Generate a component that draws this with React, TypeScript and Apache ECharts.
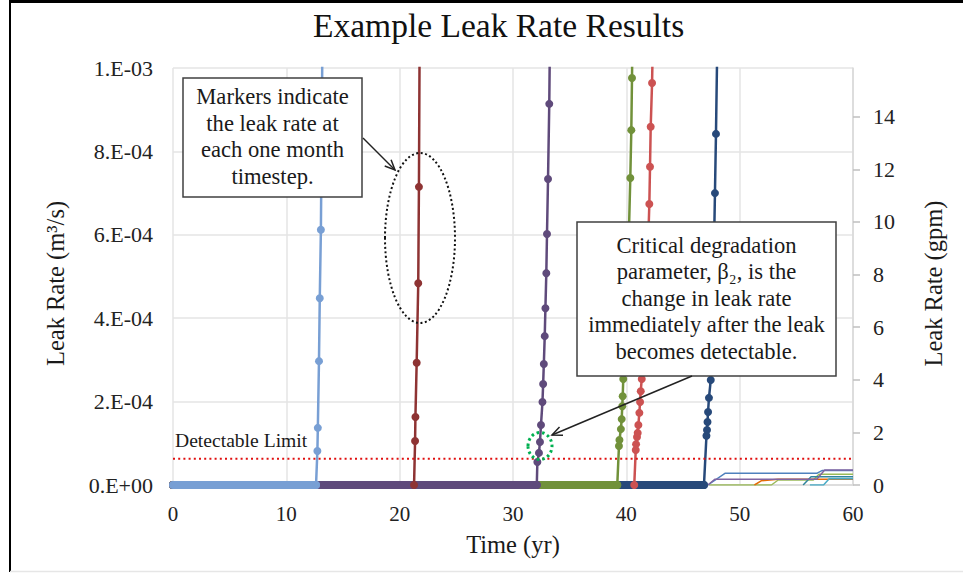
import React, { useEffect, useRef } from "react";
import * as echarts from "echarts";

const FONT = "'Liberation Serif', 'Times New Roman', serif";

// ---- axes ----
const xTicks = [0, 10, 20, 30, 40, 50, 60];
const leftTickLabels = ["0.E+00", "2.E-04", "4.E-04", "6.E-04", "8.E-04", "1.E-03"];
const rightTickValues = [0, 2, 4, 6, 8, 10, 12, 14];
const GPM_PER_M3S = 15850.3;
const detectableLimit = 6.31e-5; // m3/s (1 gpm)

// ---- realizations that become detectable (time in yr, leak rate in m3/s) ----
const lightBlueTime = [12.62, 12.74, 12.78, 12.88, 12.95, 13.05, 13.1, 13.15, 13.2];
const lightBlueRate = [0, 8.15e-5, 1.37e-4, 2.97e-4, 4.48e-4, 6.12e-4, 7.8e-4, 9.5e-4, 1.12e-3];

const darkRedTime = [21.27, 21.36, 21.39, 21.5, 21.64, 21.7, 21.76];
const darkRedRate = [0, 1.055e-4, 1.63e-4, 2.93e-4, 4.84e-4, 7.15e-4, 1.06e-3];

const purpleTime = [32.1, 32.15, 32.29, 32.38, 32.47, 32.6, 32.66, 32.72, 32.8, 32.86, 32.94, 33.0, 33.09, 33.2, 33.27];
const purpleRate = [0, 5.5e-5, 7.7e-5, 1.03e-4, 1.44e-4, 1.99e-4, 2.42e-4, 2.9e-4, 3.57e-4, 4.24e-4, 5.08e-4, 6.02e-4, 7.34e-4, 9.14e-4, 1.1e-3];

const greenTime = [39.2, 39.35, 39.39, 39.52, 39.59, 39.64, 39.68, 39.73, 39.83, 39.93, 40.03, 40.13, 40.24, 40.35, 40.44, 40.5, 40.55];
const greenRate = [0, 9.35e-5, 1.08e-4, 1.34e-4, 1.58e-4, 1.89e-4, 2.13e-4, 2.54e-4, 3.05e-4, 3.7e-4, 4.45e-4, 5.3e-4, 6.2e-4, 7.36e-4, 8.51e-4, 9.76e-4, 1.1e-3];

const redTime = [40.7, 40.83, 40.86, 40.94, 41.0, 41.06, 41.15, 41.21, 41.27, 41.36, 41.46, 41.55, 41.65, 41.75, 41.84, 41.94, 42.03, 42.09, 42.15, 42.27, 42.35];
const redRate = [0, 8.4e-5, 9.8e-5, 1.15e-4, 1.25e-4, 1.44e-4, 1.73e-4, 1.99e-4, 2.25e-4, 2.54e-4, 2.95e-4, 3.42e-4, 3.95e-4, 4.55e-4, 5.2e-4, 5.93e-4, 6.74e-4, 7.63e-4, 8.59e-4, 9.64e-4, 1.08e-3];

const darkBlueTime = [46.85, 47.07, 47.12, 47.16, 47.21, 47.29, 47.45, 47.53, 47.6, 47.67, 47.74, 47.82, 47.91, 48.0];
const darkBlueRate = [0, 1.18e-4, 1.32e-4, 1.51e-4, 1.75e-4, 2.09e-4, 2.52e-4, 3.07e-4, 3.77e-4, 4.66e-4, 5.79e-4, 7.0e-4, 8.42e-4, 1.01e-3];

// ---- small, sub-threshold realizations ----
const lowBlueTime = [47.2, 48.7, 56.8, 57.3, 60];
const lowBlueRate = [0, 2.8e-5, 2.8e-5, 3.5e-5, 3.5e-5];
const lowPurpleTime = [47.2, 47.8, 56.8, 57.5, 60];
const lowPurpleRate = [0, 1.37e-5, 1.37e-5, 3.6e-5, 3.6e-5];
const lowGreenTime = [47.3, 52.8, 53.4, 56.5, 57.0, 60];
const lowGreenRate = [0, 0, 1.2e-5, 1.2e-5, 2.6e-5, 2.6e-5];
const lowOrangeTime = [51.3, 51.9, 53.4, 60];
const lowOrangeRate = [0, 1.0e-5, 1.4e-5, 1.4e-5];
const lowAquaTime = [56.2, 57.4, 57.9, 60];
const lowAquaRate = [0, 0, 1.5e-5, 1.5e-5];
const lowTealTime = [55.6, 56.3, 60];
const lowTealRate = [0, 2.0e-5, 2.0e-5];

const pairs = (t: number[], q: number[]) => t.map((v, i) => [v, q[i]]);

type Real = { name: string; color: string; t: number[]; q: number[] };
// drawing order of the zero band (last on top)
const realizations: Real[] = [
  { name: "R6", color: "#8e3333", t: darkRedTime, q: darkRedRate },
  { name: "R4", color: "#cc5252", t: redTime, q: redRate },
  { name: "R5", color: "#27497a", t: darkBlueTime, q: darkBlueRate },
  { name: "R3", color: "#71913a", t: greenTime, q: greenRate },
  { name: "R2", color: "#5f4a7b", t: purpleTime, q: purpleRate },
  { name: "R1", color: "#789fd4", t: lightBlueTime, q: lightBlueRate },
];

const lowReals: Real[] = [
  { name: "L1", color: "#9bbb59", t: lowGreenTime, q: lowGreenRate },
  { name: "L2", color: "#e36c09", t: lowOrangeTime, q: lowOrangeRate },
  { name: "L3", color: "#31859c", t: lowTealTime, q: lowTealRate },
  { name: "L4", color: "#4bacc6", t: lowAquaTime, q: lowAquaRate },
  { name: "L5", color: "#4f81bd", t: lowBlueTime, q: lowBlueRate },
  { name: "L6", color: "#8064a2", t: lowPurpleTime, q: lowPurpleRate },
];

function arrowHead(x1: number, y1: number, x2: number, y2: number, len = 11, ang = 0.42) {
  const a = Math.atan2(y2 - y1, x2 - x1);
  return [
    [x2 - len * Math.cos(a - ang), y2 - len * Math.sin(a - ang)],
    [x2, y2],
    [x2 - len * Math.cos(a + ang), y2 - len * Math.sin(a + ang)],
  ];
}

export default function App() {
  const ref = useRef<HTMLDivElement>(null);
  useEffect(() => {
    if (!ref.current) return;
    const chart = echarts.init(ref.current, undefined, { renderer: "svg" });

    const series: any[] = [];
    // thick zero bands (monthly markers at zero)
    realizations.forEach((r) => {
      series.push({
        name: r.name + " band",
        type: "line",
        data: [[0, 0], [r.t[0], 0]],
        showSymbol: false,
        lineStyle: { color: r.color, width: 8, cap: "round" },
        z: 2,
        silent: true,
      });
    });
    lowReals.forEach((r) => {
      series.push({
        name: r.name,
        type: "line",
        data: pairs(r.t, r.q),
        showSymbol: false,
        lineStyle: { color: r.color, width: 1.5 },
        z: 3,
      });
    });
    realizations.forEach((r) => {
      series.push({
        name: r.name,
        type: "line",
        data: pairs(r.t, r.q),
        symbol: "circle",
        symbolSize: 8,
        showSymbol: true,
        clip: true,
        itemStyle: { color: r.color },
        lineStyle: { color: r.color, width: 2.5 },
        z: 4,
      });
    });
    series.push({
      name: "Detectable Limit",
      type: "line",
      data: [[0, detectableLimit], [60, detectableLimit]],
      showSymbol: false,
      lineStyle: { color: "#e01010", width: 2, type: [2, 3.2] },
      z: 5,
    });

    const textStyleBase = { fontFamily: FONT, fill: "#1a1a1a" };
    const a1 = [363, 138, 395, 170];
    const a2 = [692, 376, 552, 435];

    chart.setOption({
      animation: false,
      backgroundColor: "#ffffff",
      title: {
        text: "Example Leak Rate Results",
        left: 313,
        top: 8,
        padding: 0,
        textStyle: { fontFamily: FONT, fontSize: 33.5, fontWeight: "normal", color: "#111" },
      },
      grid: { left: 173, right: 110, top: 68, bottom: 90, containLabel: false },
      xAxis: {
        type: "value",
        min: 0,
        max: 60,
        interval: 10,
        name: "Time (yr)",
        nameLocation: "middle",
        nameGap: 47,
        nameTextStyle: { fontFamily: FONT, fontSize: 24.5, color: "#1a1a1a" },
        axisLine: { show: true, lineStyle: { color: "#d9d9d9", width: 1.5 } },
        axisTick: { show: false },
        axisLabel: {
          fontFamily: FONT,
          fontSize: 21,
          color: "#222",
          margin: 18,
          formatter: (v: number) => (xTicks.includes(v) ? String(v) : ""),
        },
        splitLine: { show: true, lineStyle: { color: "#e4e4e4", width: 1.5 } },
      },
      yAxis: [
        {
          type: "value",
          min: 0,
          max: 1e-3,
          interval: 2e-4,
          position: "left",
          name: "Leak Rate (m³/s)",
          nameLocation: "middle",
          nameRotate: 90,
          nameGap: 105,
          nameTextStyle: { fontFamily: FONT, fontSize: 24.5, color: "#1a1a1a", padding: [0, 14, 0, 0] },
          axisLine: { show: false },
          axisTick: { show: false },
          axisLabel: {
            fontFamily: FONT,
            fontSize: 22,
            color: "#222",
            margin: 20,
            formatter: (v: number) => leftTickLabels[Math.round(v / 2e-4)] ?? "",
          },
          splitLine: { show: true, lineStyle: { color: "#e4e4e4", width: 1.5 } },
        },
        {
          type: "value",
          min: 0,
          max: 1e-3 * GPM_PER_M3S,
          position: "right",
          name: "Leak Rate (gpm)",
          nameLocation: "middle",
          nameRotate: 90,
          nameGap: 68,
          nameTextStyle: { fontFamily: FONT, fontSize: 24.5, color: "#1a1a1a", padding: [0, 14, 0, 0] },
          axisLine: { show: true, lineStyle: { color: "#d9d9d9", width: 1.5 } },
          axisTick: {
            show: true,
            length: 7,
            customValues: rightTickValues,
            lineStyle: { color: "#bfbfbf", width: 1.5 },
          },
          axisLabel: {
            fontFamily: FONT,
            fontSize: 22,
            color: "#222",
            margin: 20,
            customValues: rightTickValues,
            formatter: (v: number) => String(v),
          },
          splitLine: { show: false },
        },
      ],
      series,
      graphic: [
        // outer frame
        { type: "line", z: 200, shape: { x1: 9, y1: 1.5, x2: 963, y2: 1.5 }, style: { stroke: "#000", lineWidth: 3 } },
        { type: "line", z: 200, shape: { x1: 10, y1: 0, x2: 10, y2: 572 }, style: { stroke: "#000", lineWidth: 2 } },
        { type: "line", z: 200, shape: { x1: 10, y1: 571.5, x2: 963, y2: 571.5 }, style: { stroke: "#e6e6e6", lineWidth: 1.5 } },
        // detectable limit label
        {
          type: "text",
          z: 150,
          x: 175,
          y: 440,
          style: { ...textStyleBase, text: "Detectable Limit", fontSize: 19.6, align: "left", verticalAlign: "middle" },
        },
        // markers annotation
        {
          type: "rect",
          z: 150,
          shape: { x: 183, y: 78, width: 179, height: 119 },
          style: { fill: "#fff", stroke: "#404040", lineWidth: 1.5 },
        },
        {
          type: "text",
          z: 151,
          x: 272.5,
          y: 136.5,
          style: {
            ...textStyleBase,
            text: "Markers indicate\nthe leak rate at\neach one month\ntimestep.",
            fontSize: 22.6,
            lineHeight: 26.5,
            align: "center",
            verticalAlign: "middle",
          },
        },
        {
          type: "line",
          z: 150,
          shape: { x1: a1[0], y1: a1[1], x2: a1[2], y2: a1[3] },
          style: { stroke: "#222", lineWidth: 1.5 },
        },
        {
          type: "polyline",
          z: 150,
          shape: { points: arrowHead(a1[0], a1[1], a1[2], a1[3]) },
          style: { stroke: "#222", lineWidth: 1.5, fill: "none" },
        },
        {
          type: "ellipse",
          z: 150,
          shape: { cx: 420, cy: 238, rx: 35, ry: 85 },
          style: { fill: "none", stroke: "#111", lineWidth: 2, lineDash: [2, 2.5] },
        },
        // beta2 annotation
        {
          type: "rect",
          z: 150,
          shape: { x: 577, y: 222, width: 259, height: 154 },
          style: { fill: "#fff", stroke: "#404040", lineWidth: 1.5 },
        },
        {
          type: "text",
          z: 151,
          x: 706.5,
          y: 298,
          style: {
            ...textStyleBase,
            text:
              "Critical degradation\nparameter, β₂, is the\nchange in leak rate\nimmediately after the leak\nbecomes detectable.",
            fontSize: 22.6,
            lineHeight: 26.5,
            align: "center",
            verticalAlign: "middle",
          },
        },
        {
          type: "line",
          z: 150,
          shape: { x1: a2[0], y1: a2[1], x2: a2[2], y2: a2[3] },
          style: { stroke: "#222", lineWidth: 1.5 },
        },
        {
          type: "polyline",
          z: 150,
          shape: { points: arrowHead(a2[0], a2[1], a2[2], a2[3]) },
          style: { stroke: "#222", lineWidth: 1.5, fill: "none" },
        },
        {
          type: "ellipse",
          z: 150,
          shape: { cx: 540, cy: 446, rx: 12, ry: 13.5 },
          style: { fill: "none", stroke: "#00b050", lineWidth: 3, lineDash: [2.5, 3] },
        },
      ],
    });
    return () => chart.dispose();
  }, []);

  return (
    <div
      ref={ref}
      style={{ position: "fixed", left: 0, top: 0, width: 963, height: 575, background: "#fff" }}
    />
  );
}
